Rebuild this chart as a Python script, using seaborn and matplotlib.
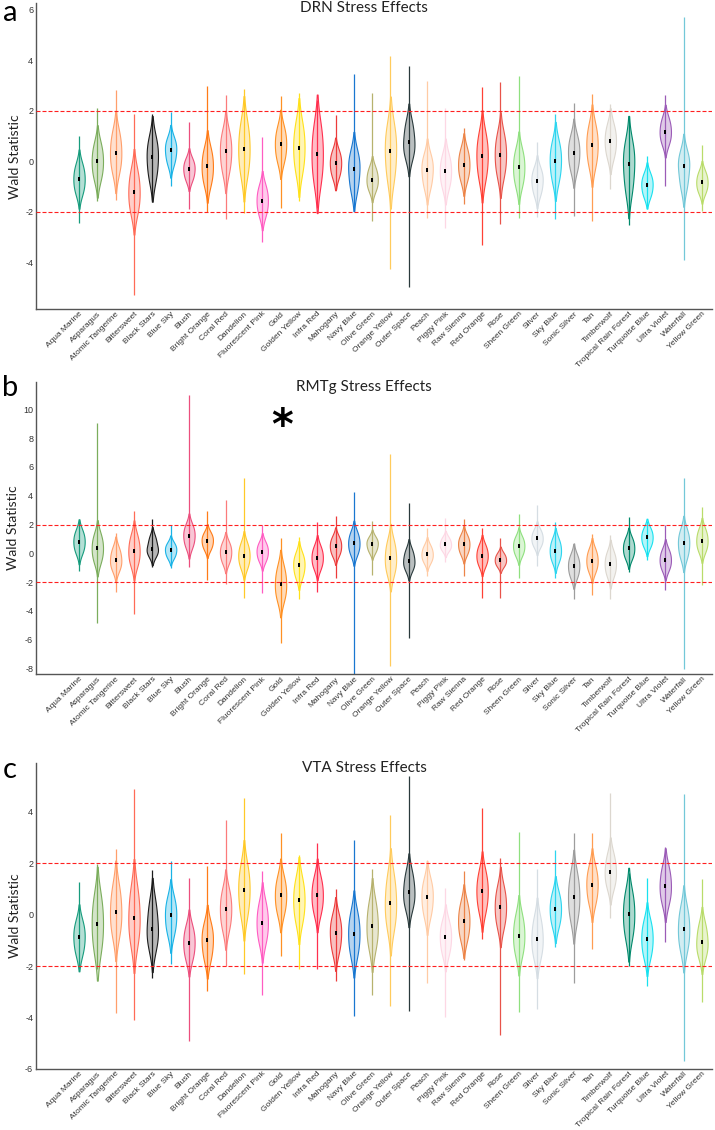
import numpy as np
import pandas as pd
import matplotlib
matplotlib.use("Agg")
import matplotlib.pyplot as plt
import matplotlib.transforms as mtransforms
import seaborn as sns

# ---------------------------------------------------------------
# categories + colours
# ---------------------------------------------------------------
categories = ["Aqua Marine", "Asparagus", "Atomic Tangerine", "Bittersweet",
              "Black Stars", "Blue Sky", "Blush", "Bright Orange", "Coral Red",
              "Dandelion", "Fluorescent Pink", "Gold", "Golden Yellow",
              "Infra Red", "Mahogany", "Navy Blue", "Olive Green",
              "Orange Yellow", "Outer Space", "Peach", "Piggy Pink",
              "Raw Sienna", "Red Orange", "Rose", "Sheen Green", "Silver",
              "Sky Blue", "Sonic Silver", "Tan", "Timberwolf",
              "Tropical Rain Forest", "Turquoise Blue", "Ultra Violet",
              "Waterfall", "Yellow Green"]

colors = ["#179c7d", "#7bad5c", "#ff9f6b", "#ff6b57", "#1c1c1c", "#1ab3e6",
          "#ec4f7d", "#ff7b17", "#fb7b7b", "#ffc928", "#ff5cc2", "#ff9124",
          "#ffe11a", "#ff2f4e", "#ec3b3b", "#1977d0", "#b7b26e", "#ffcb5c",
          "#2a3a3c", "#ffcba4", "#fdd7e4", "#ec8448", "#ff4136", "#e8534a",
          "#8fe07f", "#d5dde3", "#2cd5ef", "#9d9d9d", "#ff9d52", "#dcd7cf",
          "#00896b", "#18e1ef", "#9b5bb7", "#73c8d8", "#b9dc6a"]

# ---------------------------------------------------------------
# DRN  (min / core low / median / core high / max)
# ---------------------------------------------------------------
drn_min = [-2.44, -1.55, -1.52, -5.30, -1.52, -0.97, -1.89, -2.00, -2.28, -2.05,
           -3.19, -1.85, -1.55, -1.84, -1.10, -1.97, -2.36, -4.24, -4.96, -2.23,
           -2.64, -1.68, -3.29, -2.47, -2.23, -2.20, -2.27, -2.14, -2.34, -1.09,
           -2.53, -1.90, -0.98, -3.91, -1.97]
drn_lo = [-1.15, -0.55, -0.25, -1.85, -0.55, 0.00, -0.65, -0.75, -0.25, -0.30,
          -2.00, 0.15, -0.20, -0.60, -0.50, -1.00, -1.05, -0.50, 0.30, -0.90,
          -0.90, -0.60, -0.50, -0.40, -0.80, -1.20, -0.60, -0.20, 0.00, 0.30,
          -1.00, -1.30, 0.80, -0.90, -1.15]
drn_med = [-0.70, 0.00, 0.35, -1.22, 0.16, 0.45, -0.30, -0.20, 0.41, 0.49,
           -1.55, 0.68, 0.55, 0.29, -0.08, -0.30, -0.72, 0.42, 0.75, -0.33,
           -0.39, -0.13, 0.22, 0.26, -0.24, -0.76, 0.03, 0.35, 0.64, 0.81,
           -0.10, -0.93, 1.18, -0.20, -0.83]
drn_hi = [-0.25, 0.55, 1.00, -0.55, 0.75, 0.80, 0.00, 0.35, 1.00, 1.30,
          -1.10, 1.20, 1.30, 1.20, 0.30, 0.20, -0.35, 1.20, 1.40, 0.10,
          0.10, 0.35, 0.90, 0.90, 0.30, -0.40, 0.60, 0.85, 1.25, 1.30,
          0.55, -0.60, 1.60, 0.20, -0.50]
drn_max = [1.01, 2.10, 2.81, 1.86, 1.86, 1.97, 1.57, 2.97, 2.62, 2.85,
           0.97, 2.57, 2.72, 2.43, 1.84, 3.46, 2.72, 4.15, 3.77, 3.18,
           2.13, 1.34, 2.95, 3.15, 3.37, 0.75, 1.86, 2.30, 2.65, 2.26,
           1.80, 0.22, 2.62, 5.73, 0.64]

# ---------------------------------------------------------------
# RMTg
# ---------------------------------------------------------------
rmtg_min = [-1.20, -4.86, -2.71, -4.24, -0.97, -1.04, -0.93, -1.85, -2.15, -3.08,
            -2.78, -6.25, -3.17, -2.66, -1.74, -8.40, -1.50, -7.80, -5.90, -1.55,
            -0.58, -1.55, -3.13, -3.13, -1.74, -0.86, -1.74, -3.17, -2.89, -3.17,
            -1.27, -0.46, -2.55, -8.00, -2.20]
rmtg_lo = [0.20, -0.40, -1.00, -0.60, 0.00, -0.20, 0.60, 0.40, -0.50, -0.80,
           -0.40, -3.00, -1.50, -0.90, 0.00, 0.10, 0.20, -1.20, -1.00, -0.50,
           0.30, 0.10, -0.70, -0.80, 0.00, 0.60, -0.40, -1.50, -1.10, -1.40,
           -0.20, 0.60, -1.00, -0.10, 0.30]
rmtg_med = [0.81, 0.35, -0.46, 0.16, 0.30, 0.23, 1.23, 0.88, 0.07, -0.16,
            0.12, -2.15, -0.81, -0.30, 0.51, 0.69, 0.65, -0.35, -0.53, -0.07,
            0.62, 0.62, -0.16, -0.46, 0.51, 1.04, 0.19, -0.88, -0.51, -0.74,
            0.35, 1.11, -0.46, 0.69, 0.88]
rmtg_hi = [1.40, 1.10, 0.20, 1.00, 1.00, 0.60, 1.80, 1.30, 0.60, 0.50,
           0.60, -1.20, -0.20, 0.30, 1.00, 1.30, 1.00, 0.60, 0.10, 0.40,
           1.00, 1.10, 0.40, -0.10, 1.00, 1.50, 0.80, -0.30, 0.10, -0.10,
           0.90, 1.60, 0.10, 1.40, 1.50]
rmtg_max = [2.31, 9.07, 1.39, 2.96, 2.36, 1.97, 11.0, 2.94, 3.70, 5.20,
            1.97, 1.04, 1.11, 2.15, 2.62, 4.24, 2.25, 6.88, 3.52, 1.78,
            2.43, 2.38, 1.74, 1.04, 2.71, 3.36, 2.20, 0.69, 1.37, 1.27,
            2.50, 2.25, 1.97, 5.20, 3.24]

# ---------------------------------------------------------------
# VTA
# ---------------------------------------------------------------
vta_min = [-2.10, -2.10, -3.83, -4.09, -2.46, -1.91, -4.90, -2.98, -2.00, -2.30,
           -3.12, -1.59, -2.13, -2.13, -2.56, -3.95, -3.14, -3.56, -3.73, -2.65,
           -3.99, -1.75, -0.94, -4.68, -3.79, -3.66, -1.26, -2.65, -1.33, -0.13,
           -2.00, -2.78, -1.07, -5.70, -3.40]
vta_lo = [-1.40, -1.20, -0.60, -0.90, -1.10, -0.60, -1.60, -1.60, -0.40, 0.20,
          -0.90, 0.20, -0.10, 0.20, -1.30, -1.40, -1.10, -0.30, 0.40, 0.10,
          -1.40, -0.80, 0.30, -0.30, -1.40, -1.50, -0.30, 0.00, 0.60, 1.20,
          -0.70, -1.50, 0.60, -1.20, -1.50]
vta_med = [-0.87, -0.35, 0.10, -0.12, -0.55, -0.03, -1.09, -1.00, 0.21, 0.97,
           -0.31, 0.75, 0.56, 0.75, -0.71, -0.74, -0.44, 0.44, 0.88, 0.69,
           -0.87, -0.25, 0.91, 0.30, -0.81, -0.94, 0.21, 0.69, 1.17, 1.66,
           0.01, -0.94, 1.12, -0.57, -1.07]
vta_hi = [-0.40, 0.50, 0.90, 0.80, 0.30, 0.50, -0.60, -0.50, 0.80, 1.70,
          0.30, 1.30, 1.20, 1.30, -0.20, -0.10, 0.30, 1.30, 1.50, 1.20,
          -0.40, 0.30, 1.50, 0.90, -0.20, -0.30, 0.70, 1.40, 1.70, 2.20,
          0.70, -0.40, 1.70, 0.10, -0.50]
vta_max = [1.27, 1.99, 2.55, 4.87, 1.73, 2.08, 1.44, 1.88, 3.68, 4.52,
           1.69, 3.16, 2.31, 2.77, 0.99, 2.92, 1.77, 3.87, 5.40, 2.12,
           1.04, 1.70, 4.16, 2.22, 3.20, 1.79, 2.53, 3.16, 3.16, 4.72,
           1.64, 1.43, 2.64, 4.68, 1.38]

TICK_FONT = "Liberation Sans"
TEXT_FONT = "Lato"
AX_COLOR = "#555555"
MED_MARK = [(-0.35, -1), (0.35, -1), (0.35, 1), (-0.35, 1)]   # slim bar


def draw_panel(ax, mins, los, meds, his, maxs, ylim, yticks):
    # violin body from the core values of each crayon
    df = pd.DataFrame({
        "crayon": np.repeat(categories, 3),
        "wald": np.column_stack([los, meds, his]).ravel(),
    })
    sns.violinplot(data=df, x="crayon", y="wald", hue="crayon",
                   order=categories, hue_order=categories, palette=colors,
                   saturation=1, inner=None, cut=2, width=0.62,
                   density_norm="width", linewidth=0.8, legend=False, ax=ax)
    for coll in ax.collections:
        fc = coll.get_facecolor()[0]
        coll.set_edgecolor(fc)
        coll.set_facecolor((fc[0], fc[1], fc[2], 0.32))

    # thin tails out to min / max
    ax.vlines(np.arange(len(categories)), mins, maxs, colors=colors,
              linewidth=0.9, zorder=0.9)

    # median marks
    sns.stripplot(x=categories, y=meds, order=categories, jitter=False,
                  color="black", marker=MED_MARK, size=3.2, linewidth=0,
                  ax=ax, zorder=3)

    for lev in (2, -2):
        ax.axhline(lev, color="#ff2020", linestyle=(0, (3.6, 1.8)),
                   linewidth=0.8, zorder=4)

    ax.set_xlim(-2.35, 34.55)
    ax.set_ylim(*ylim)
    ax.set_yticks(yticks)
    ax.set_yticklabels([str(t) for t in yticks], fontsize=6.5,
                       family=TICK_FONT, color="#333333")
    ax.set_xticks(range(len(categories)))
    ax.set_xticklabels(categories, rotation=45, ha="right",
                       rotation_mode="anchor", fontsize=6.0,
                       family=TICK_FONT, color="#333333")
    offset = mtransforms.ScaledTranslation(3 / 72, 2 / 72,
                                           ax.figure.dpi_scale_trans)
    for lbl in ax.get_xticklabels():
        lbl.set_transform(lbl.get_transform() + offset)
    ax.tick_params(axis="x", direction="in", length=5, width=0.8,
                   color=AX_COLOR, pad=1)
    ax.tick_params(axis="y", direction="in", length=3, width=0.8,
                   color=AX_COLOR, pad=2)
    ax.set_xlabel("")
    ax.set_ylabel("Wald Statistic", fontsize=10, family=TEXT_FONT,
                  color="#222222", labelpad=3)
    for side in ("top", "right"):
        ax.spines[side].set_visible(False)
    for side in ("left", "bottom"):
        ax.spines[side].set_color(AX_COLOR)
        ax.spines[side].set_linewidth(1.0)
    ax.set_facecolor("white")


sns.set_style("white")
fig = plt.figure(figsize=(7.15, 11.3), dpi=100)

ax_a = fig.add_axes([0.0503, 0.7265, 0.9455, 0.2705])
ax_b = fig.add_axes([0.0503, 0.4033, 0.9455, 0.2587])
ax_c = fig.add_axes([0.0503, 0.0540, 0.9455, 0.2708])

draw_panel(ax_a, drn_min, drn_lo, drn_med, drn_hi, drn_max,
           (-5.84, 6.25), [-4, -2, 0, 2, 4, 6])
draw_panel(ax_b, rmtg_min, rmtg_lo, rmtg_med, rmtg_hi, rmtg_max,
           (-8.4, 11.9), [-8, -6, -4, -2, 0, 2, 4, 6, 8, 10])
draw_panel(ax_c, vta_min, vta_lo, vta_med, vta_hi, vta_max,
           (-6.0, 5.9), [-6, -4, -2, 0, 2, 4])

# titles and panel letters
for txt, yy in [("DRN Stress Effects", 8), ("RMTg Stress Effects", 387),
                ("VTA Stress Effects", 768)]:
    fig.text(364 / 715, 1 - yy / 1130, txt, ha="center", va="center",
             fontsize=11, family=TEXT_FONT, color="#222222")
for txt, yy in [("a", 13), ("b", 388), ("c", 770)]:
    fig.text(10 / 715, 1 - yy / 1130, txt, ha="center", va="center",
             fontsize=21, family=TEXT_FONT, color="black")

# significance star on RMTg
ax_b.text(11.1, 8.8, "*", ha="center", va="center", fontsize=30,
          fontweight="bold", family="DejaVu Sans", color="black")

fig.savefig("out.png", dpi=100)
